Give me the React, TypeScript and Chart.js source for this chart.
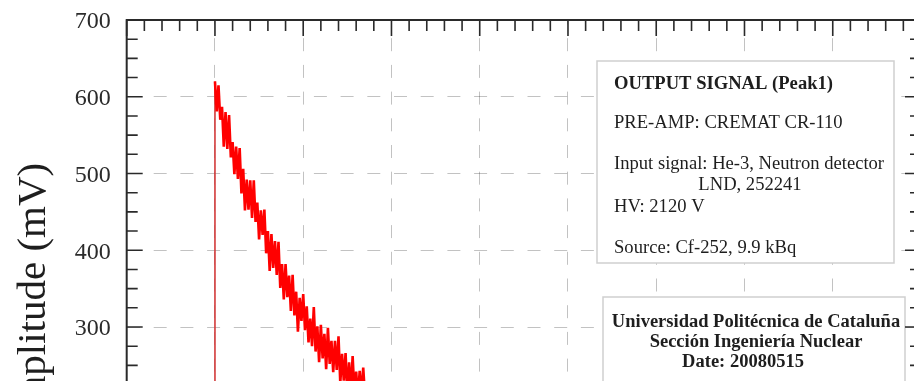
import React, { useEffect, useRef } from "react";
import { Chart, registerables } from "chart.js";

Chart.register(...registerables);

// ---- data (time axis labels lie outside the visible crop; 100 units per major division) ----
const timeValues: number[] = [
  0, 50, 100, 100, 102, 104, 106, 108, 110, 112, 114, 116, 118, 120, 122, 124, 126, 128, 130,
  132, 134, 136, 138, 140, 142, 144, 146, 148, 150, 152, 154, 156, 158, 160, 162, 164, 166,
  168, 170, 172, 174, 176, 178, 180, 182, 184, 186, 188, 190, 192, 194, 196, 198, 200, 202,
  204, 206, 208, 210, 212, 214, 216, 218, 220, 222, 224, 226, 228, 230, 232, 234, 236, 238,
  240, 242, 244, 246, 248, 250, 252, 254, 256, 258, 260, 262, 264, 266, 268, 270,
  280, 300, 330, 370, 420, 480, 560, 650, 750, 850, 900,
];
const amplitudeMv: number[] = [
  3, 2, 2, 620, 581, 615, 570, 587, 535, 580, 532, 576, 521, 541, 499, 535, 493, 533, 474,
  506, 452, 492, 453, 491, 442, 491, 437, 462, 414, 452, 420, 453, 396, 425, 373, 421, 377,
  412, 368, 411, 351, 382, 336, 382, 339, 367, 321, 368, 315, 346, 294, 338, 308, 343, 296,
  327, 280, 311, 275, 326, 268, 301, 254, 303, 259, 291, 245, 299, 252, 282, 241, 282, 244,
  288, 227, 265, 230, 266, 212, 254, 216, 262, 214, 242, 207, 243, 211, 247, 210,
  206, 192, 172, 148, 122, 96, 70, 49, 33, 22, 18,
];
const xMin = 0;
const xMax = 900;
const xMajorStep = 100;
const xMinorStep = 20;
const yMin = 0;
const yMax = 700;
const yMajorStep = 100;
const yMinorStep = 25;
const yTitle = "Amplitude (mV)";

const infoTitle = "OUTPUT SIGNAL (Peak1)";
const infoPreamp = "PRE-AMP: CREMAT CR-110";
const infoInput1 = "Input signal: He-3, Neutron detector";
const infoInput2 = "LND, 252241";
const infoHv = "HV: 2120 V";
const infoSource = "Source: Cf-252, 9.9 kBq";
const labLines = ["Universidad Politécnica de Cataluña", "Sección Ingeniería Nuclear", "Date: 20080515"];

const SERIF = '"Liberation Serif", "Times New Roman", serif';

const framePlugin = {
  id: "frameAndNotes",
  afterDraw(chart: any) {
    const { ctx, chartArea: a, scales } = chart;
    const xs = scales.x;
    const ys = scales.y;
    ctx.save();

    // y axis title
    ctx.save();
    ctx.translate(34, 300);
    ctx.rotate(-Math.PI / 2);
    ctx.fillStyle = "#1e1e1e";
    ctx.font = `41px ${SERIF}`;
    ctx.textAlign = "center";
    ctx.textBaseline = "middle";
    ctx.fillText(yTitle, 0, 0);
    ctx.restore();

    // info box
    ctx.fillStyle = "#ffffff";
    ctx.strokeStyle = "#cfcfcf";
    ctx.lineWidth = 1.5;
    ctx.fillRect(597, 61, 297, 202);
    ctx.strokeRect(597, 61, 297, 202);
    ctx.fillStyle = "#1e1e1e";
    ctx.textBaseline = "alphabetic";
    ctx.textAlign = "left";
    ctx.font = `bold 18.6px ${SERIF}`;
    ctx.fillText(infoTitle, 614, 89);
    ctx.font = `18.6px ${SERIF}`;
    ctx.fillText(infoPreamp, 614, 128);
    ctx.fillText(infoInput1, 614, 169);
    ctx.textAlign = "center";
    ctx.fillText(infoInput2, 750, 190);
    ctx.textAlign = "left";
    ctx.fillText(infoHv, 614, 212);
    ctx.fillText(infoSource, 614, 253);

    // institution box
    ctx.fillStyle = "#ffffff";
    ctx.fillRect(603, 297, 302, 120);
    ctx.strokeRect(603, 297, 302, 120);
    ctx.fillStyle = "#1e1e1e";
    ctx.font = `bold 18.5px ${SERIF}`;
    ctx.textAlign = "center";
    ctx.fillText(labLines[0], 756, 327);
    ctx.fillText(labLines[1], 756, 347);
    ctx.fillText(labLines[2], 743, 367);

    // frame
    ctx.strokeStyle = "#2a2a2a";
    ctx.lineWidth = 2;
    ctx.strokeRect(a.left, a.top, a.right - a.left, a.bottom - a.top);

    // inward ticks
    ctx.lineWidth = 1.6;
    ctx.beginPath();
    for (let v = xMin; v <= xMax + 1e-6; v += xMinorStep) {
      const px = xs.getPixelForValue(v);
      const major = Math.abs(v / xMajorStep - Math.round(v / xMajorStep)) < 1e-6;
      const len = major ? 16 : 11;
      ctx.moveTo(px, a.top);
      ctx.lineTo(px, a.top + len);
      ctx.moveTo(px, a.bottom);
      ctx.lineTo(px, a.bottom - len);
    }
    for (let v = yMin; v <= yMax + 1e-6; v += yMinorStep) {
      const py = ys.getPixelForValue(v);
      const major = Math.abs(v / yMajorStep - Math.round(v / yMajorStep)) < 1e-6;
      const len = major ? 16 : 11;
      ctx.moveTo(a.left, py);
      ctx.lineTo(a.left + len, py);
      ctx.moveTo(a.right, py);
      ctx.lineTo(a.right - len, py);
    }
    ctx.stroke();
    ctx.restore();
  },
};

export default function App() {
  const ref = useRef<HTMLCanvasElement>(null);

  useEffect(() => {
    const points = timeValues.map((t, i) => ({ x: t, y: amplitudeMv[i] }));
    const gridColor = "rgba(0,0,0,0.24)";
    const chart = new Chart(ref.current as HTMLCanvasElement, {
      type: "line",
      data: {
        datasets: [
          {
            data: points,
            borderColor: "#ff0000",
            borderWidth: 2.6,
            pointRadius: 0,
            tension: 0,
            segment: {
              borderColor: (c: any) => (c.p0.parsed.x === c.p1.parsed.x ? "#d23a3a" : "#ff0000"),
              borderWidth: (c: any) => (c.p0.parsed.x === c.p1.parsed.x ? 1.6 : 2.6),
            },
          },
        ],
      },
      options: {
        animation: false,
        responsive: false,
        devicePixelRatio: 1,
        layout: { padding: { top: 20, right: 19, bottom: 42.75, left: 0 } },
        plugins: { legend: { display: false }, tooltip: { enabled: false } },
        scales: {
          x: {
            type: "linear",
            min: xMin,
            max: xMax,
            ticks: { display: false, stepSize: xMajorStep },
            grid: { color: gridColor, lineWidth: 1, drawTicks: false, tickLength: 0 },
            border: { display: false, dash: [13, 13.7], dashOffset: 8.5 },
            afterFit: (s: any) => {
              s.height = 0;
              s.paddingLeft = 0;
              s.paddingRight = 0;
            },
          },
          y: {
            type: "linear",
            min: yMin,
            max: yMax,
            ticks: {
              stepSize: yMajorStep,
              padding: 16,
              color: "#2b2b2b",
              labelOffset: 2,
              font: { family: SERIF, size: 24 },
            },
            grid: { color: gridColor, lineWidth: 1, drawTicks: false, tickLength: 0 },
            border: { display: false, dash: [13, 13.7], dashOffset: 0 },
            title: { display: false },
            afterFit: (s: any) => {
              s.width = 126.7;
              s.paddingTop = 0;
              s.paddingBottom = 0;
            },
          },
        },
      },
      plugins: [framePlugin],
    } as any);
    return () => chart.destroy();
  }, []);

  return (
    <div
      style={{
        position: "fixed",
        left: 0,
        top: 0,
        width: 914,
        height: 381,
        overflow: "hidden",
        background: "#ffffff",
      }}
    >
      <canvas ref={ref} width={940} height={600} style={{ display: "block" }} />
    </div>
  );
}
